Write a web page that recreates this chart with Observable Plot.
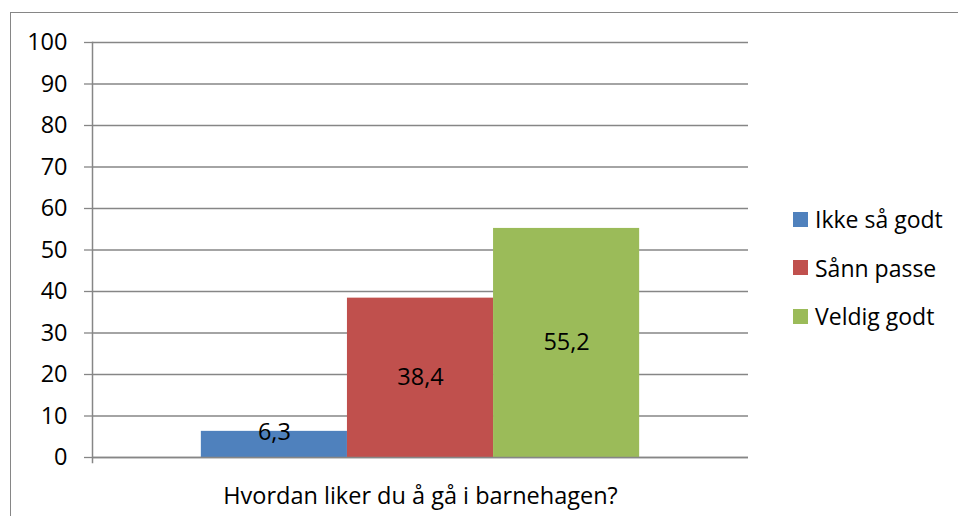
<!DOCTYPE html>
<html>
<head>
<meta charset="utf-8">
<script src="https://cdn.jsdelivr.net/npm/d3@7"></script>
<script src="https://cdn.jsdelivr.net/npm/@observablehq/plot@0.6"></script>
<style>
  html, body { margin: 0; padding: 0; background: #fff; }
  #wrap { position: relative; width: 958px; height: 516px; overflow: hidden; font-family: "Open Sans", "Noto Sans", sans-serif; }
  #border { position: absolute; left: 10px; top: 12px; width: 2000px; height: 2000px; border: 1.5px solid #868686; box-sizing: border-box; }
  #chart { position: absolute; left: 0; top: 0; }
  #legend { position: absolute; left: 793px; top: 195px; }
  .item { display: flex; align-items: center; height: 48.5px; font-size: 23px; color: #000; }
  .sw { width: 15px; height: 15px; margin-right: 7px; }
</style>
</head>
<body>
<div id="wrap">
  <div id="border"></div>
  <div id="chart"></div>
  <div id="legend"></div>
</div>
<script>
const category = "Hvordan liker du å gå i barnehagen?";
const series = ["Ikke så godt", "Sånn passe", "Veldig godt"];
const values = [6.3, 38.4, 55.2];
const colors = ["#4F81BD", "#C0504D", "#9BBB59"];
const yTicks = [0, 10, 20, 30, 40, 50, 60, 70, 80, 90, 100];

const data = series.map((s, i) => ({category, series: s, value: values[i]}));
const fmt = v => String(v).replace(".", ",");

const plot = Plot.plot({
  width: 958,
  height: 516,
  marginLeft: 92,
  marginRight: 210,
  marginTop: 42,
  marginBottom: 59,
  style: {fontFamily: '"Open Sans", "Noto Sans", sans-serif', color: "#000", background: "transparent"},
  fx: {domain: [category], padding: 0},
  x: {domain: series, paddingInner: 0, paddingOuter: 0.745, round: false, axis: null},
  y: {domain: [0, 100]},
  color: {domain: series, range: colors},
  marks: [
    Plot.gridY(yTicks, {stroke: "#868686", strokeOpacity: 1, strokeWidth: 1.3}),
    Plot.axisY(yTicks, {tickSize: 8, tickPadding: 17, fontSize: 23.5, stroke: "#868686", strokeWidth: 1.3, color: "#000", label: null}),
    Plot.frame({anchor: "left", stroke: "#868686", strokeWidth: 1.5, insetBottom: -5}),
    Plot.barY(data, {fx: "category", x: "series", y: "value", fill: "series"}),
    Plot.ruleY([0], {stroke: "#868686", strokeWidth: 1.5}),
    Plot.text(data, {fx: "category", x: "series", y: d => Math.max(d.value / 2, 6.1), text: d => fmt(d.value), fontSize: 23.5, fill: "#000"}),
    Plot.axisFx({anchor: "bottom", tickSize: 0, tickPadding: 30, fontSize: 23.5, label: null, color: "#000"})
  ]
});
document.getElementById("chart").appendChild(plot);

const legend = document.getElementById("legend");
series.forEach((s, i) => {
  const row = document.createElement("div");
  row.className = "item";
  const sw = document.createElement("div");
  sw.className = "sw";
  sw.style.background = colors[i];
  const t = document.createElement("span");
  t.textContent = s;
  row.appendChild(sw);
  row.appendChild(t);
  legend.appendChild(row);
});
</script>
</body>
</html>
